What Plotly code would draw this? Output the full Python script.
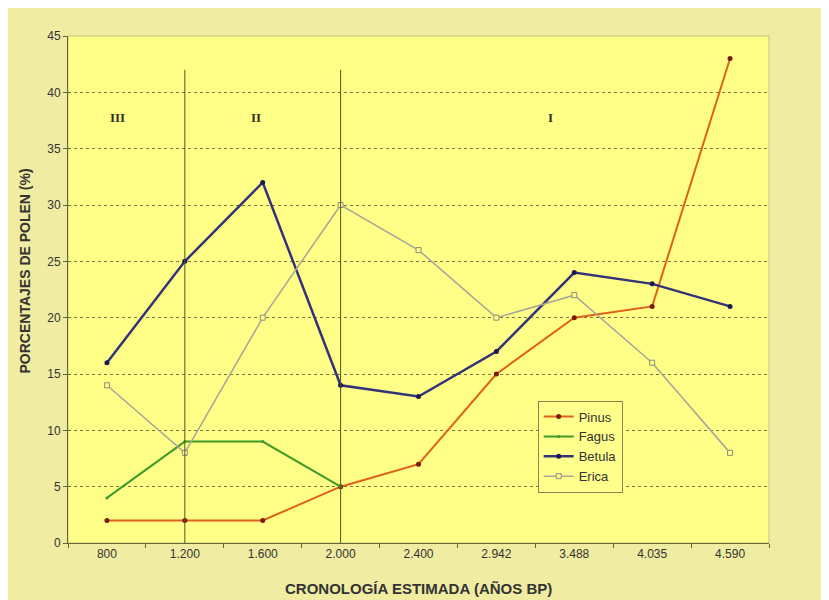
import plotly.graph_objects as go

# ---- data ----
categories = ["800", "1.200", "1.600", "2.000", "2.400", "2.942", "3.488", "4.035", "4.590"]
pinus = [2, 2, 2, 5, 7, 15, 20, 21, 43]
fagus = [4, 9, 9, 5, None, None, None, None, None]
betula = [16, 25, 32, 14, 13, 17, 24, 23, 21]
erica = [14, 8, 20, 30, 26, 20, 22, 16, 8]

phase_boundaries = ["1.200", "2.000"]
phase_boundary_top = 42
phase_labels = ["III", "II", "I"]
phase_label_x = [0.13, 1.91, 5.7]
phase_label_y = 37.8

y_ticks = [0, 5, 10, 15, 20, 25, 30, 35, 40, 45]

fig = go.Figure()

fig.add_trace(go.Scatter(x=categories, y=pinus, name="Pinus", mode="lines+markers",
                         line=dict(color="#E0601C", width=2),
                         marker=dict(color="#7A1A08", size=5, symbol="circle")))
fig.add_trace(go.Scatter(x=categories, y=fagus, name="Fagus", mode="lines+markers",
                         line=dict(color="#3F9A26", width=2),
                         marker=dict(color="#3F9A26", size=3, symbol="circle")))
fig.add_trace(go.Scatter(x=categories, y=betula, name="Betula", mode="lines+markers",
                         line=dict(color="#33337A", width=2.5),
                         marker=dict(color="#1A1A50", size=5, symbol="circle")))
fig.add_trace(go.Scatter(x=categories, y=erica, name="Erica", mode="lines+markers",
                         line=dict(color="#A9A797", width=1.6),
                         marker=dict(color="#FFFF88", size=5, symbol="square",
                                     line=dict(color="#8E8C7C", width=1))))

shapes = [
    dict(type="rect", xref="paper", yref="paper", x0=0, x1=1, y0=0, y1=1,
         fillcolor="rgba(0,0,0,0)", line=dict(color="#C8C27A", width=1), layer="below"),
]
for b in phase_boundaries:
    idx = categories.index(b)
    shapes.append(dict(type="line", xref="x", yref="y", x0=idx, x1=idx, y0=0, y1=phase_boundary_top,
                       line=dict(color="#55551A", width=1), layer="above"))

annotations = []
for lab, px in zip(phase_labels, phase_label_x):
    annotations.append(dict(x=px, y=phase_label_y, xref="x", yref="y", text="<b>" + lab + "</b>",
                            showarrow=False,
                            font=dict(family="Liberation Serif", size=13, color="#333322"),
                            xanchor="center", yanchor="middle"))
annotations.append(dict(x=0.5, y=-0.0895, xref="paper", yref="paper",
                        text="<b>CRONOLOGÍA ESTIMADA (AÑOS BP)</b>", showarrow=False,
                        font=dict(family="Liberation Sans", size=15, color="#333333"),
                        xanchor="center", yanchor="middle"))
annotations.append(dict(x=-0.061, y=0.536, xref="paper", yref="paper",
                        text="<b>PORCENTAJES DE POLEN (%)</b>", showarrow=False, textangle=-90,
                        font=dict(family="Liberation Sans", size=14, color="#333333"),
                        xanchor="center", yanchor="middle"))

fig.update_layout(
    width=829, height=600,
    margin=dict(l=60, r=68, t=28, b=65),
    paper_bgcolor="#F0ECA2",
    plot_bgcolor="#FFFF88",
    font=dict(family="Liberation Sans", size=12, color="#333333"),
    shapes=shapes,
    annotations=annotations,
    showlegend=True,
    legend=dict(x=0.670, y=0.281, xanchor="left", yanchor="top",
                bgcolor="#FFFF8C", bordercolor="#8C8450", borderwidth=1,
                font=dict(family="Liberation Sans", size=13, color="#333333"),
                itemwidth=30, tracegroupgap=0),
    xaxis=dict(type="category", categoryorder="array", categoryarray=categories,
               range=[-0.5, len(categories) - 0.5],
               showgrid=False, zeroline=False,
               showline=True, linecolor="#66663A", linewidth=1,
               ticks="outside", tickson="boundaries", ticklen=4, tickcolor="#66663A",
               tickfont=dict(family="Liberation Sans", size=12, color="#333333")),
    yaxis=dict(range=[0, 45], tickvals=y_ticks,
               showgrid=True, gridcolor="#7A7440", griddash="dot", gridwidth=1,
               zeroline=False,
               showline=True, linecolor="#66663A", linewidth=1,
               ticks="outside", ticklen=4, tickcolor="#66663A",
               tickfont=dict(family="Liberation Sans", size=12, color="#333333")),
)

fig.write_html("out.html")
